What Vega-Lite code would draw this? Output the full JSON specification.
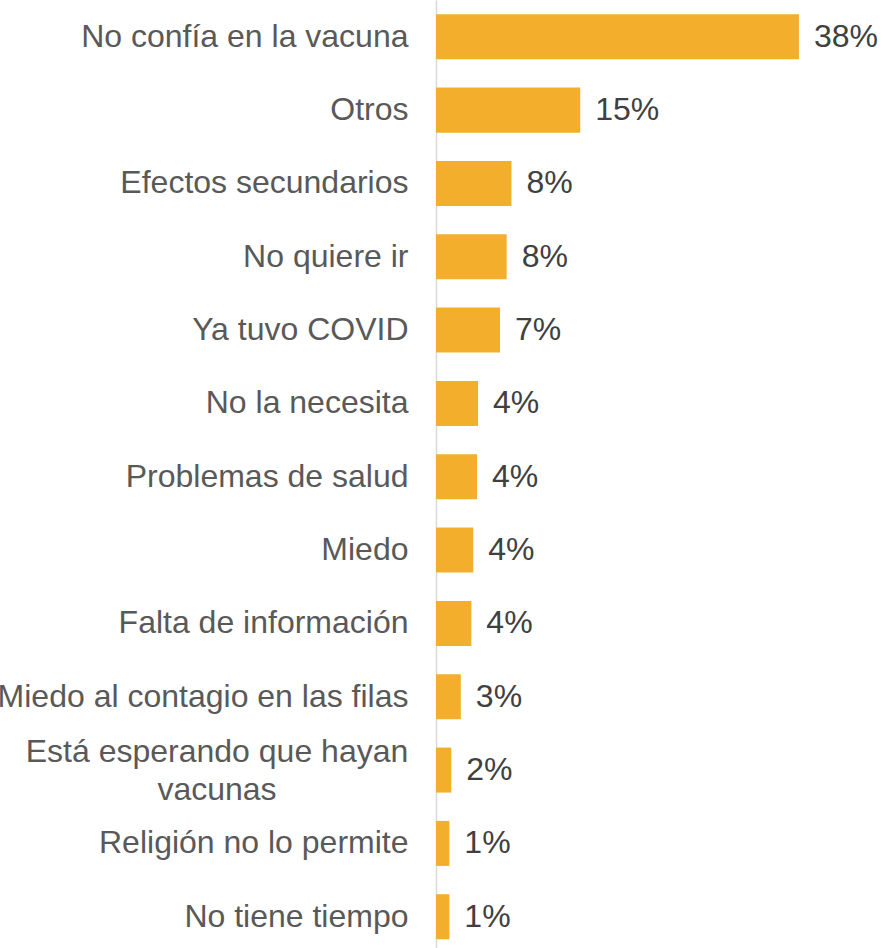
{
  "$schema": "https://vega.github.io/schema/vega-lite/v6.json",
  "width": 447,
  "height": 948,
  "autosize": "none",
  "padding": {"left": 436, "top": 0, "right": 0, "bottom": 0},
  "background": "white",
  "config": {"view": {"stroke": null}, "font": "Liberation Sans"},
  "data": {
    "values": [
      {"motivo": "No confía en la vacuna", "pct": 38.0, "label": "38%"},
      {"motivo": "Otros", "pct": 15.1, "label": "15%"},
      {"motivo": "Efectos secundarios", "pct": 7.9, "label": "8%"},
      {"motivo": "No quiere ir", "pct": 7.4, "label": "8%"},
      {"motivo": "Ya tuvo COVID", "pct": 6.7, "label": "7%"},
      {"motivo": "No la necesita", "pct": 4.4, "label": "4%"},
      {"motivo": "Problemas de salud", "pct": 4.3, "label": "4%"},
      {"motivo": "Miedo", "pct": 3.9, "label": "4%"},
      {"motivo": "Falta de información", "pct": 3.7, "label": "4%"},
      {"motivo": "Miedo al contagio en las filas", "pct": 2.6, "label": "3%"},
      {"motivo": "Está esperando que hayan vacunas", "pct": 1.6, "label": "2%"},
      {"motivo": "Religión no lo permite", "pct": 1.4, "label": "1%"},
      {"motivo": "No tiene tiempo", "pct": 1.4, "label": "1%"}
    ]
  },
  "encoding": {
    "y": {
      "field": "motivo",
      "type": "nominal",
      "sort": null,
      "scale": {"paddingInner": 0.386, "paddingOuter": 0.157, "align": 0.62},
      "axis": {
        "title": null,
        "ticks": false,
        "grid": false,
        "domainColor": "#d9d9d9",
        "domainWidth": 1.5,
        "labelFontSize": 32,
        "labelFont": "Liberation Sans",
        "labelColor": "#595959",
        "labelPadding": 28,
        "labelLimit": 700,
        "labelOverlap": false,
        "labelExpr": "datum.value == 'Está esperando que hayan vacunas' ? '' : datum.label"
      }
    },
    "x": {
      "field": "pct",
      "type": "quantitative",
      "scale": {"domain": [0, 46.8], "nice": false},
      "axis": null
    }
  },
  "layer": [
    {"mark": {"type": "bar", "color": "#F3AF2C"}},
    {
      "mark": {"type": "text", "align": "left", "baseline": "middle", "dx": 15, "fontSize": 32, "color": "#404040", "font": "Liberation Sans"},
      "encoding": {"text": {"field": "label"}}
    },
    {
      "transform": [{"filter": "datum.motivo == 'Está esperando que hayan vacunas'"}],
      "mark": {
        "type": "text",
        "text": ["Está esperando que hayan", "vacunas"],
        "align": "center",
        "baseline": "alphabetic",
        "dx": -219,
        "dy": -8,
        "lineHeight": 38,
        "fontSize": 32,
        "color": "#595959",
        "font": "Liberation Sans"
      },
      "encoding": {"x": {"datum": 0, "type": "quantitative"}}
    }
  ]
}
